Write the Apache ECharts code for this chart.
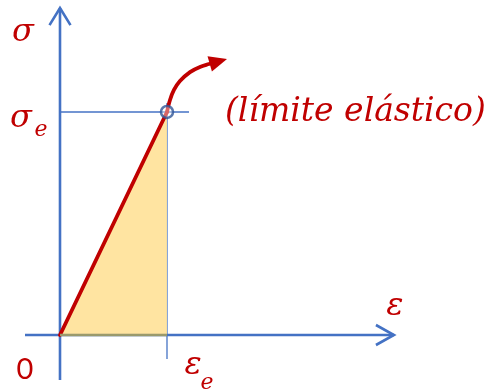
<!DOCTYPE html>
<html>
<head>
<meta charset="utf-8">
<script src="https://cdn.jsdelivr.net/npm/echarts@6/dist/echarts.min.js"></script>
<style>
  html, body { margin: 0; padding: 0; background: #fff; }
  #chart { width: 493px; height: 391px; }
</style>
</head>
<body>
<div id="chart"></div>
<script>
// Stress–strain diagram: linear elastic branch up to the yield point.
// Units are normalised so that the yield point sits at (1, 1).

// Extent of the view (strain on x, stress on y)
const viewStrain = [-0.5607, 4.0467];
const viewStress = [-0.2511, 1.5022];

// Drawn extent of the two axes (start, arrow tip)
const strainAxisRange = [-0.327, 3.121];
const stressAxisRange = [-0.202, 1.466];

// Yield point
const yieldStrain = 1;
const yieldStress = 1;

// Elastic branch (origin -> yield point)
const elasticStrain = [0, yieldStrain];
const elasticStress = [0, yieldStress];

// Plastic branch beyond the yield point, ending in an arrow
const plasticStrain = [1.0, 1.028, 1.065, 1.121, 1.215, 1.308, 1.393];
const plasticStress = [1.0, 1.054, 1.099, 1.139, 1.179, 1.202, 1.215];
const plasticArrowTip = [1.561, 1.238];

// Guide lines through the yield point
const stressGuideStrain = [0, 1.206];
const strainGuideStress = [-0.108, 1.04];

// Text
const stressSymbol = 'σ';
const strainSymbol = 'ε';
const yieldSub = 'e';
const originLabel = '0';
const yieldNote = '(límite elástico)';

const BLUE = '#4472C4';
const RED = '#C00000';
const YELLOW = '#FFE299';
const MATH_FONT = '"DejaVu Serif", serif';

const zip = (xs, ys) => xs.map((x, i) => [x, ys[i]]);

const chart = echarts.init(document.getElementById('chart'), null, { renderer: 'canvas' });

function chevron(api, tip, dirX, dirY, back, half) {
  // open arrow head made of two short strokes meeting at the tip
  const p = api.coord(tip);
  const nx = -dirY, ny = dirX;
  const a = [p[0] - dirX * back + nx * half, p[1] - dirY * back + ny * half];
  const b = [p[0] - dirX * back - nx * half, p[1] - dirY * back - ny * half];
  return {
    type: 'polyline',
    shape: { points: [a, p, b] },
    style: { stroke: BLUE, lineWidth: 2.6, fill: null, lineJoin: 'miter' }
  };
}

const axesSeries = {
  type: 'custom',
  z: 1,
  silent: true,
  data: [0],
  renderItem: function (params, api) {
    const xa = api.coord([strainAxisRange[0], 0]);
    const xb = api.coord([strainAxisRange[1], 0]);
    const ya = api.coord([0, stressAxisRange[0]]);
    const yb = api.coord([0, stressAxisRange[1]]);
    const hg0 = api.coord([stressGuideStrain[0], yieldStress]);
    const hg1 = api.coord([stressGuideStrain[1], yieldStress]);
    const vg0 = api.coord([yieldStrain, strainGuideStress[0]]);
    const vg1 = api.coord([yieldStrain, strainGuideStress[1]]);
    const axisStyle = { stroke: BLUE, lineWidth: 2.6 };
    const guideStyle = { stroke: BLUE, lineWidth: 1.3 };
    return {
      type: 'group',
      children: [
        { type: 'line', shape: { x1: hg0[0], y1: hg0[1], x2: hg1[0], y2: hg1[1] }, style: guideStyle },
        { type: 'line', shape: { x1: vg0[0], y1: vg0[1], x2: vg1[0], y2: vg1[1] }, style: guideStyle },
        { type: 'line', shape: { x1: xa[0], y1: xa[1], x2: xb[0], y2: xb[1] }, style: axisStyle },
        { type: 'line', shape: { x1: ya[0], y1: ya[1], x2: yb[0], y2: yb[1] }, style: axisStyle },
        chevron(api, [strainAxisRange[1], 0], 1, 0, 18, 10),
        chevron(api, [0, stressAxisRange[1]], 0, -1, 17, 10.5)
      ]
    };
  }
};

const elasticSeries = {
  type: 'line',
  z: 3,
  data: zip(elasticStrain, elasticStress),
  symbol: 'none',
  silent: true,
  lineStyle: { color: RED, width: 3.8, cap: 'round' },
  areaStyle: { color: YELLOW, opacity: 0.92 }
};

// olive edge along the base of the shaded triangle
const baseEdgeSeries = {
  type: 'line',
  z: 4,
  data: [[elasticStrain[0], 0], [yieldStrain, 0]],
  symbol: 'none',
  silent: true,
  lineStyle: { color: '#9A9A6C', width: 2.4 }
};

const plasticSeries = {
  type: 'custom',
  z: 5,
  silent: true,
  data: [0],
  renderItem: function (params, api) {
    const pts = zip(plasticStrain, plasticStress).map(p => api.coord(p));
    const tip = api.coord(plasticArrowTip);
    const last = pts[pts.length - 1];
    let dx = tip[0] - last[0], dy = tip[1] - last[1];
    const len = Math.hypot(dx, dy);
    dx /= len; dy /= len;
    const back = 18, half = 8;
    const bx = tip[0] - dx * back, by = tip[1] - dy * back;
    const head = [
      tip,
      [bx - dy * half, by + dx * half],
      [bx + dy * half, by - dx * half]
    ];
    return {
      type: 'group',
      children: [
        {
          type: 'polyline',
          shape: { points: pts.concat([[bx + dx * 3, by + dy * 3]]), smooth: 0.35 },
          style: { stroke: RED, lineWidth: 3.8, fill: null, lineCap: 'round' }
        },
        { type: 'polygon', shape: { points: head }, style: { fill: RED } }
      ]
    };
  }
};

const yieldPointSeries = {
  type: 'scatter',
  z: 6,
  silent: true,
  data: [[yieldStrain, yieldStress]],
  symbol: 'circle',
  symbolSize: 12,
  itemStyle: { color: 'rgba(255,255,255,0.5)', borderColor: '#2F5597', borderWidth: 2.5 }
};

function textAt(api, anchor, dx, dy, text, font, align) {
  const p = api.coord(anchor);
  return {
    type: 'text',
    x: p[0] + dx,
    y: p[1] + dy,
    style: {
      text: text,
      font: font,
      fill: RED,
      align: align || 'center',
      verticalAlign: 'middle'
    }
  };
}

const labelSeries = {
  type: 'custom',
  z: 7,
  silent: true,
  data: [0],
  renderItem: function (params, api) {
    const big = 'italic 32px ' + MATH_FONT;
    const sub = 'italic 22px ' + MATH_FONT;
    return {
      type: 'group',
      children: [
        textAt(api, [0, stressAxisRange[1]], -37, 25, stressSymbol, big),
        textAt(api, [0, yieldStress], -39, 7, stressSymbol, big),
        textAt(api, [0, yieldStress], -19, 18, yieldSub, sub),
        textAt(api, [0, 0], -35, 35, originLabel, '29px Lato, "Open Sans", sans-serif'),
        textAt(api, [yieldStrain, 0], 26, 31, strainSymbol, big),
        textAt(api, [yieldStrain, 0], 40, 48, yieldSub, sub),
        textAt(api, [strainAxisRange[1], 0], 1, -28, strainSymbol, big),
        textAt(api, [yieldStrain, yieldStress], 58, 0, yieldNote, 'italic 33px ' + MATH_FONT, 'left')
      ]
    };
  }
};

chart.setOption({
  animation: false,
  backgroundColor: '#ffffff',
  grid: { left: 0, right: 0, top: 0, bottom: 0, containLabel: false },
  xAxis: { type: 'value', min: viewStrain[0], max: viewStrain[1], show: false },
  yAxis: { type: 'value', min: viewStress[0], max: viewStress[1], show: false },
  series: [axesSeries, elasticSeries, baseEdgeSeries, plasticSeries, yieldPointSeries, labelSeries]
});
</script>
</body>
</html>
